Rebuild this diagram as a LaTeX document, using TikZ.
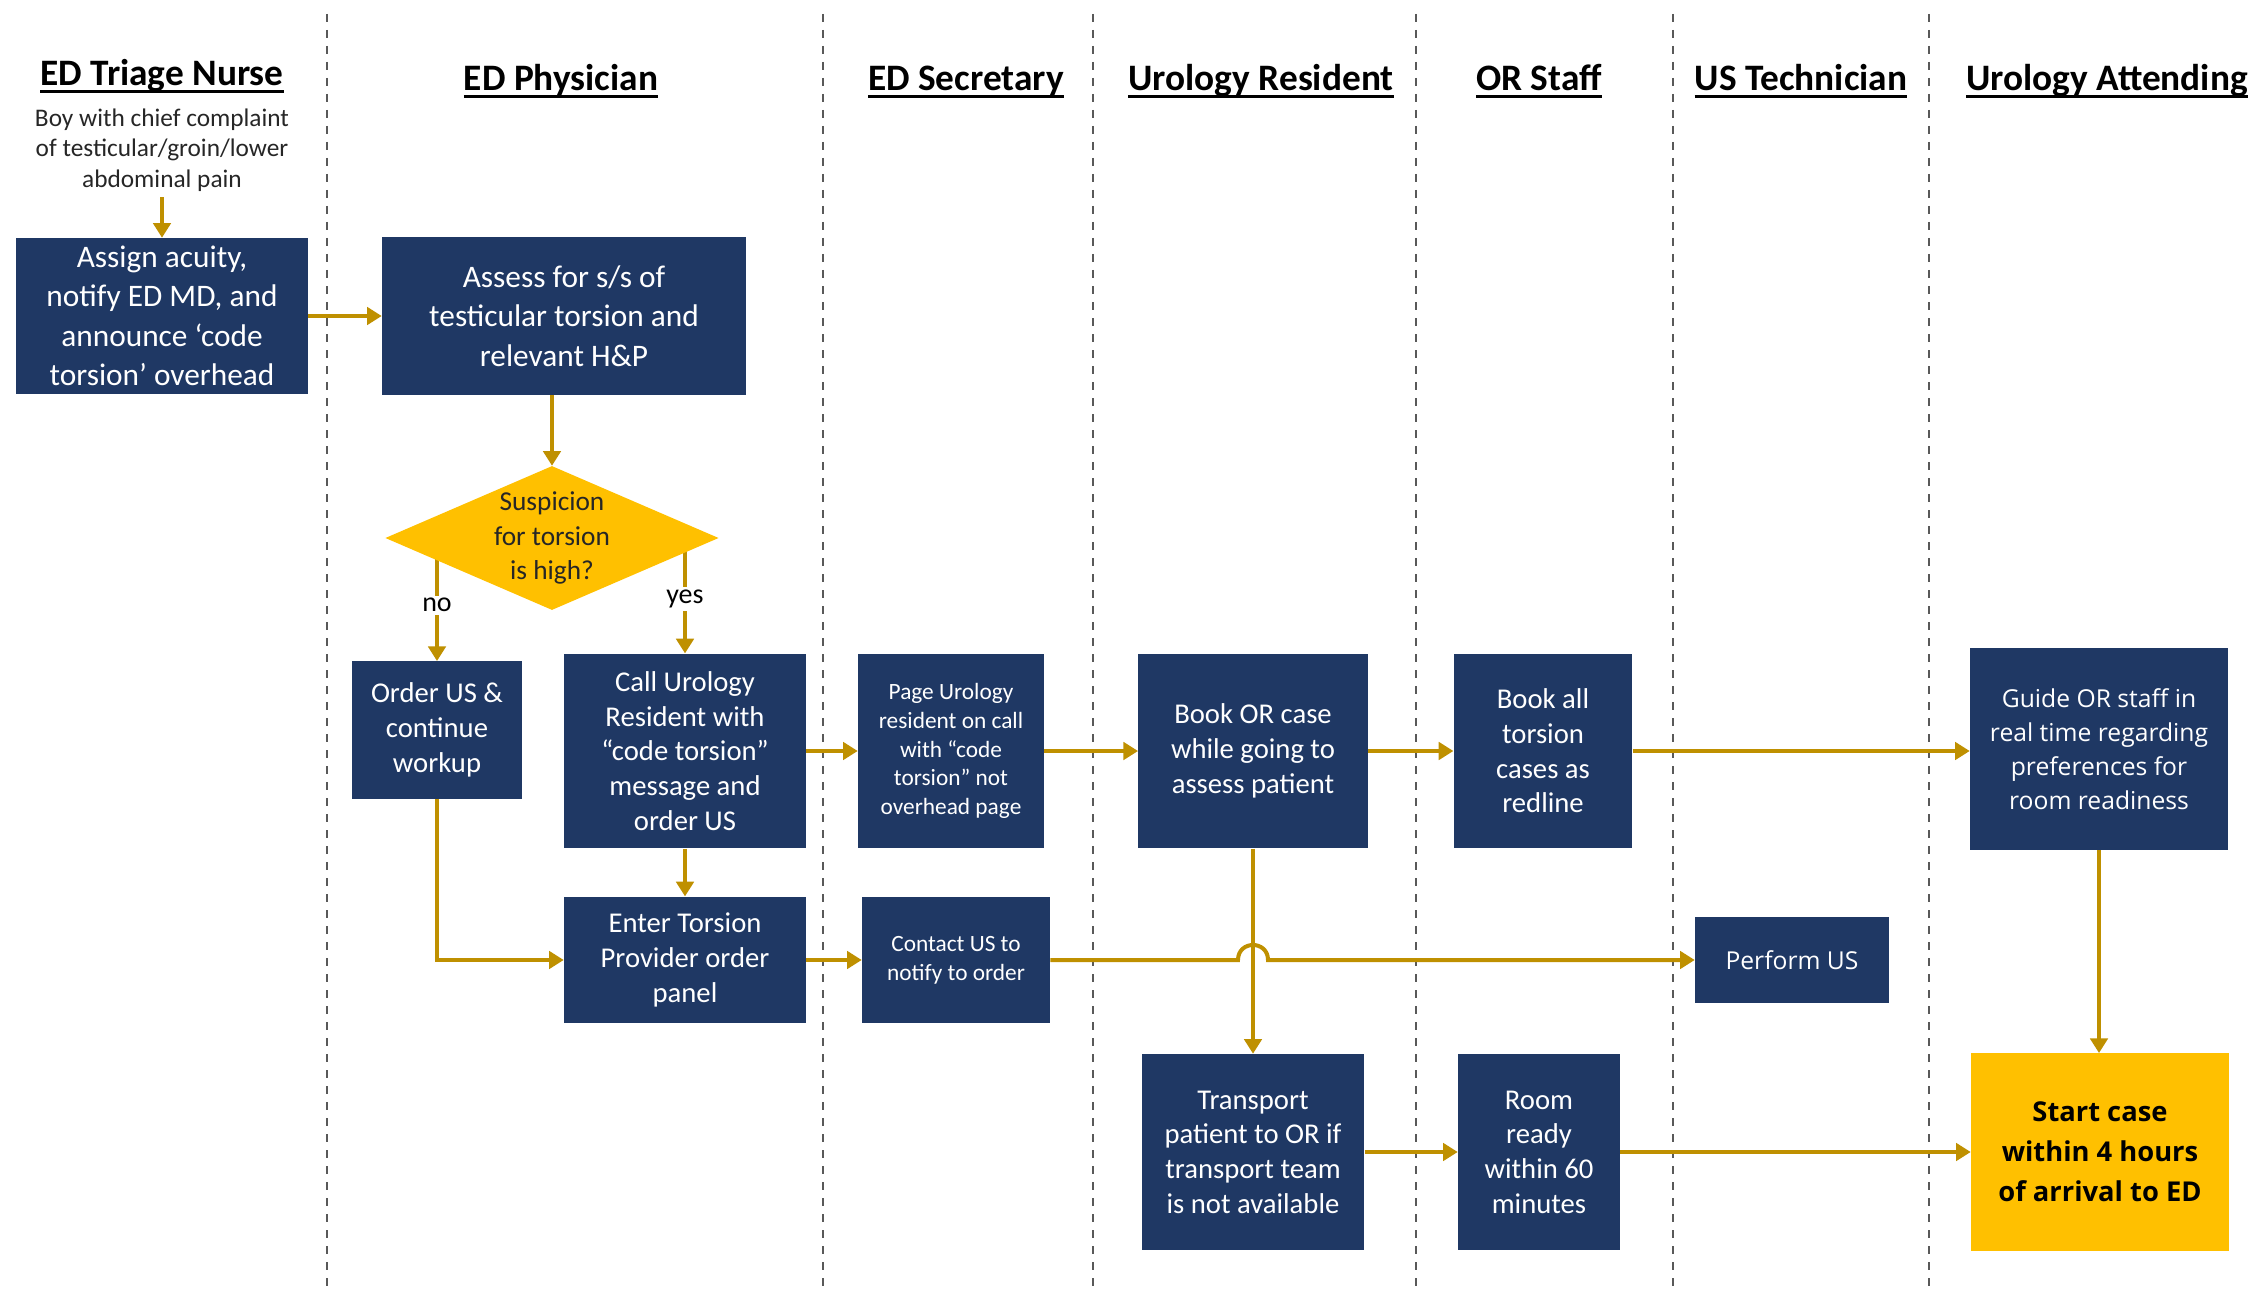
\documentclass[tikz,border=0pt]{standalone}
\usepackage{fontspec}
\setmainfont{Carlito}
\newfontfamily\segoe{Open Sans}
\usepackage{tikz}
\usepackage{xcolor}
\usetikzlibrary{arrows.meta,shapes.geometric,calc}

\definecolor{navy}{HTML}{1F3864}
\definecolor{gold}{HTML}{FFC000}
\definecolor{ochre}{HTML}{BF9000}
\definecolor{lanegray}{HTML}{595959}

\newsavebox{\hdrbox}
\newcommand{\laneul}[1]{\sbox{\hdrbox}{#1}\rlap{\rule[-5pt]{\wd\hdrbox}{2.2pt}}\usebox{\hdrbox}}

\pgfdeclarelayer{bg}
\pgfsetlayers{bg,main}

\begin{document}
\begin{tikzpicture}[x=0.75pt,y=0.75pt,yscale=-1,xscale=1,
    lane/.style={draw=lanegray, line width=1.5pt, dash pattern=on 6pt off 6pt},
    flow/.style={draw=ochre, line width=3pt, -{Triangle[length=11pt,width=13pt]}},
    hdr/.style={anchor=base, inner sep=0pt, font=\fontsize{28}{32}\selectfont\bfseries},
    note/.style={inner sep=0pt, align=center, text=black!85, font=\fontsize{19}{23}\selectfont},
    task/.style={fill=navy, text=white, inner sep=0pt, align=center, font=\fontsize{21.5}{26}\selectfont},
    taskbig/.style={task, font=\fontsize{23.5}{29.5}\selectfont},
    tasksmall/.style={task, font=\fontsize{17.5}{21.5}\selectfont},
    taskround/.style={task, font=\segoe\fontsize{18.5}{25.5}\selectfont},
    decision/.style={diamond, fill=gold, inner sep=0pt, shape aspect=2.3, align=center, text=black!85, font=\fontsize{20.5}{26}\selectfont},
    goal/.style={fill=gold, text=black, inner sep=0pt, align=center, font=\segoe\bfseries\fontsize{20.5}{30}\selectfont},
    branch/.style={fill=white, inner sep=2pt, text=black, font=\fontsize{21}{24}\selectfont}
]
\useasboundingbox (0,0) rectangle (2268,1309);

% Text Node
\draw (162,86) node [hdr] (hnurse) {\laneul{ED Triage Nurse}};
% Text Node
\draw (561,91) node [hdr] (hphys) {\laneul{ED Physician}};
% Text Node
\draw (966,91) node [hdr] (hsec) {\laneul{ED Secretary}};
% Text Node
\draw (1261,91) node [hdr] (hres) {\laneul{Urology Resident}};
% Text Node
\draw (1539,91) node [hdr] (hor) {\laneul{OR Staff}};
% Text Node
\draw (1801,91) node [hdr] (hus) {\laneul{US Technician}};
% Text Node
\draw (2107,91) node [hdr] (hatt) {\laneul{Urology Attending}};

% Text Node
\draw (162,150) node [note] (complaint) {Boy with chief complaint\\of testicular/groin/lower\\abdominal pain};

%Shape: Rectangle
\draw (162,316) node [taskbig, minimum width=219pt, minimum height=117pt] (assign) {Assign acuity,\\notify ED MD, and\\announce ‘code\\torsion’ overhead};
%Shape: Rectangle
\draw (564,316) node [taskbig, minimum width=273pt, minimum height=118.5pt] (assess) {Assess for s/s of\\testicular torsion and\\relevant H\&P};
%Shape: Diamond
\draw (552,538) node [decision, minimum width=250pt, minimum height=108pt] (suspicion) {Suspicion\\for torsion\\is high?};
%Shape: Rectangle
\draw (437,730) node [task, minimum width=128pt, minimum height=103pt] (orderus) {Order US \&\\continue\\workup};
%Shape: Rectangle
\draw (685,751) node [task, minimum width=181.5pt, minimum height=146pt] (callres) {Call Urology\\Resident with\\“code torsion”\\message and\\order US};
%Shape: Rectangle
\draw (685,960) node [task, minimum width=181.5pt, minimum height=95pt] (enter) {Enter Torsion\\Provider order\\panel};
%Shape: Rectangle
\draw (951,751) node [tasksmall, minimum width=139.5pt, minimum height=146pt] (page) {Page Urology\\resident on call\\with “code\\torsion” not\\overhead page};
%Shape: Rectangle
\draw (956,960) node [tasksmall, minimum width=141pt, minimum height=94.5pt] (contact) {Contact US to\\notify to order};
%Shape: Rectangle
\draw (1253,751) node [task, minimum width=172pt, minimum height=146pt] (book) {Book OR case\\while going to\\assess patient};
%Shape: Rectangle
\draw (1543,751) node [task, minimum width=134pt, minimum height=146pt] (redline) {Book all\\torsion\\cases as\\redline};
%Shape: Rectangle
\draw (2099,749) node [taskround, minimum width=193.5pt, minimum height=151pt] (guide) {Guide OR staff in\\real time regarding\\preferences for\\room readiness};
%Shape: Rectangle
\draw (1792,960) node [taskround, minimum width=145.5pt, minimum height=65pt] (perform) {Perform US};
%Shape: Rectangle
\draw (1253,1152) node [task, minimum width=167pt, minimum height=147pt] (transport) {Transport\\patient to OR if\\transport team\\is not available};
%Shape: Rectangle
\draw (1539,1152) node [task, minimum width=121.5pt, minimum height=147pt] (room) {Room\\ready\\within 60\\minutes};
%Shape: Rectangle
\draw (2100,1152) node [goal, minimum width=193.5pt, minimum height=148pt] (start) {Start case\\within 4 hours\\of arrival to ED};

\begin{pgfonlayer}{bg}
%Straight Lines
\draw [lane] (327,14) -- (327,1290) ;
%Straight Lines
\draw [lane] (823,14) -- (823,1290) ;
%Straight Lines
\draw [lane] (1093,14) -- (1093,1290) ;
%Straight Lines
\draw [lane] (1416,14) -- (1416,1290) ;
%Straight Lines
\draw [lane] (1673,14) -- (1673,1290) ;
%Straight Lines
\draw [lane] (1929,14) -- (1929,1290) ;

%Straight Lines
\draw [flow, shorten <=4pt] (complaint.south) -- (assign.north) ;
\draw [flow] (assign.east) -- (assess.west) ;
\draw [flow] (assess.south -| suspicion.north) -- (suspicion.north) ;
\draw [flow] (suspicion.center -| orderus.north) -- node [branch, pos=0.545] {no} (orderus.north) ;
\draw [flow] (suspicion.center -| callres.north) -- node [branch, pos=0.53] {yes} (callres.north) ;
\draw [flow] (callres.south) -- (enter.north) ;
\draw [flow] (orderus.south) |- (enter.west) ;
\draw [flow] (callres.east) -- (page.west) ;
\draw [flow] (enter.east) -- (contact.west) ;
\draw [flow] (page.east) -- (book.west) ;
\draw [flow] (book.east) -- (redline.west) ;
\draw [flow] (redline.east) -- (redline.east -| guide.west) ;
\draw [flow] (guide.south) -- (guide.south |- start.north) ;
\draw [flow] (book.south) -- (transport.north) ;
\draw [flow] (transport.east) -- (room.west) ;
\draw [flow] (room.east) -- (start.west) ;
%Curve Lines (line jump)
\coordinate (hop) at (book.south |- contact.east) ;
\draw [flow] (contact.east) -- ($(hop)+(-15,0)$) .. controls ($(hop)+(-15,-20)$) and ($(hop)+(15,-20)$) .. ($(hop)+(15,0)$) -- (perform.west) ;
\end{pgfonlayer}

\end{tikzpicture}
\end{document}
